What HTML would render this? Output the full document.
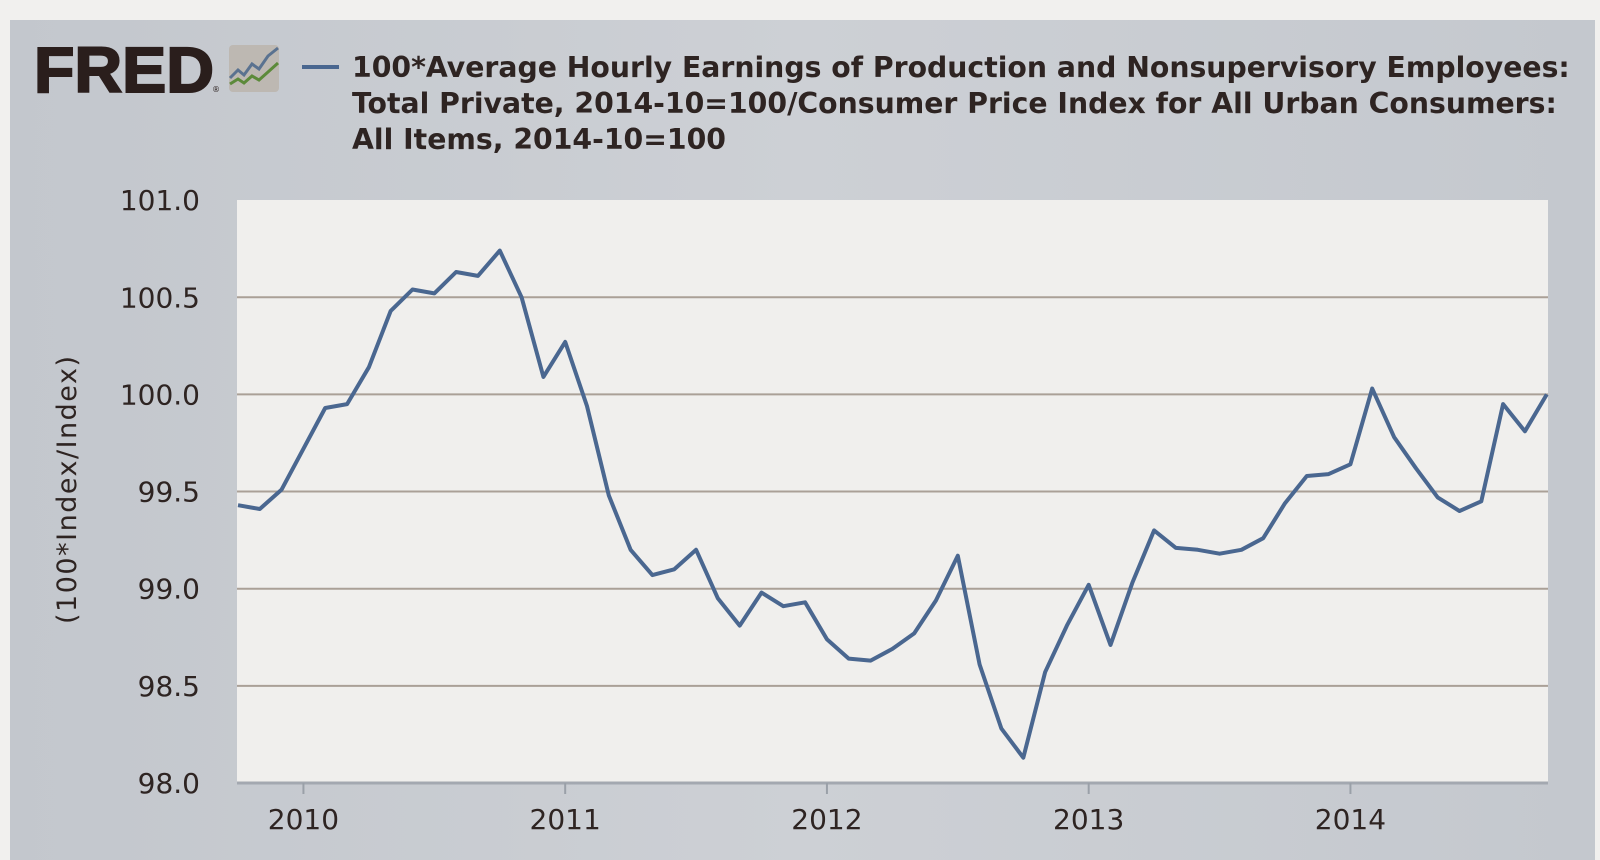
<!DOCTYPE html>
<html><head><meta charset="utf-8"><style>
html,body{margin:0;padding:0;background:#f1f0ee;}
body{width:1600px;height:855px;position:relative;overflow:hidden;font-family:"DejaVu Sans","Liberation Sans",sans-serif;}
#panel{position:absolute;left:10px;top:20px;width:1585px;height:840px;background:linear-gradient(90deg,#c3c7cd,#cdd0d5 50%,#c4c8ce);}
</style></head><body>
<div id="panel"></div>
<svg width="1600" height="855" style="position:absolute;left:0;top:0">
  <text x="34" y="92" font-family="Liberation Sans, sans-serif" font-weight="bold" font-size="64" fill="#2a1e1c" textLength="180" lengthAdjust="spacingAndGlyphs" stroke="#2a1e1c" stroke-width="2">FRED</text>
  <text x="212" y="92" font-size="8" fill="#2a1e1c">®</text>
  <g>
    <rect x="229" y="45" width="50" height="47" rx="4" fill="#bdb8b2"/>
    <polyline points="230,78 238,70 244,75 252,64 259,69 268,56 278,48" fill="none" stroke="#5a7290" stroke-width="3"/>
    <polyline points="230,84 238,79 244,83 252,76 259,80 268,72 278,63" fill="none" stroke="#5c8a3a" stroke-width="3"/>
  </g>
  <line x1="302" y1="67" x2="339" y2="67" stroke="#4a6790" stroke-width="4"/>
  <g font-family="DejaVu Sans, sans-serif" font-weight="bold" font-size="28.3" fill="#2e2422">
    <text x="352" y="77">100*Average Hourly Earnings of Production and Nonsupervisory Employees:</text>
    <text x="352" y="113">Total Private, 2014-10=100/Consumer Price Index for All Urban Consumers:</text>
    <text x="352" y="149">All Items, 2014-10=100</text>
  </g>
  <rect x="237" y="200" width="1311" height="582" fill="#f0efed"/>
  <g id="grid"></g>
  <line x1="237" y1="783" x2="1548" y2="783" stroke="#a3a8b0" stroke-width="3"/>
  <g id="ticks"></g>
  <path id="series" fill="none" stroke="#4a6790" stroke-width="4" stroke-linejoin="round"/>
  <text transform="translate(76,490) rotate(-90)" text-anchor="middle" font-size="27" fill="#2e2422" textLength="268">(100*Index/Index)</text>
</svg>
<script>
const values=[99.43,99.41,99.51,99.72,99.93,99.95,100.14,100.43,100.54,100.52,100.63,100.61,100.74,100.50,100.09,100.27,99.94,99.48,99.20,99.07,99.10,99.20,98.95,98.81,98.98,98.91,98.93,98.74,98.64,98.63,98.69,98.77,98.94,99.17,98.61,98.28,98.13,98.57,98.81,99.02,98.71,99.03,99.30,99.21,99.20,99.18,99.20,99.26,99.44,99.58,99.59,99.64,100.03,99.78,99.62,99.47,99.40,99.45,99.95,99.81,100.00];
const startYear=2009, startMonth=9; // Oct 2009 (0-based month)
const yTicks=[98.0,98.5,99.0,99.5,100.0,100.5,101.0];
const xTicks=[2010,2011,2012,2013,2014];
const X=t=>238+(t-2009.75)*261.75;
const Y=v=>783-(v-98)*194.3;
const NS='http://www.w3.org/2000/svg';
const grid=document.getElementById('grid'), ticks=document.getElementById('ticks');
yTicks.forEach(v=>{
  if(v>98&&v<101){const l=document.createElementNS(NS,'line');
  l.setAttribute('x1',237);l.setAttribute('x2',1548);l.setAttribute('y1',Y(v));l.setAttribute('y2',Y(v));
  l.setAttribute('stroke','#aaa097');l.setAttribute('stroke-width','2');
  
  
  grid.appendChild(l);}
  const t=document.createElementNS(NS,'text');
  t.setAttribute('x',200);t.setAttribute('y',Y(v)+10);t.setAttribute('text-anchor','end');
  t.setAttribute('font-size','28');t.setAttribute('fill','#2e2422');t.textContent=v.toFixed(1);
  
  
  ticks.appendChild(t);
});
xTicks.forEach(y=>{
  const l=document.createElementNS(NS,'line');
  l.setAttribute('x1',X(y));l.setAttribute('x2',X(y));l.setAttribute('y1',783);l.setAttribute('y2',794);
  l.setAttribute('stroke','#9aa0a8');l.setAttribute('stroke-width','2');
  
  
  ticks.appendChild(l);
  const t=document.createElementNS(NS,'text');
  t.setAttribute('x',X(y));t.setAttribute('y',829);t.setAttribute('text-anchor','middle');
  t.setAttribute('font-size','28');t.setAttribute('fill','#2e2422');t.textContent=y;
  
  
  ticks.appendChild(t);
});
let d='';
values.forEach((v,i)=>{const t=startYear+(startMonth+i)/12;d+=(i?'L':'M')+X(t).toFixed(1)+','+Y(v).toFixed(1);});
document.getElementById('series').setAttribute('d',d);
</script>
</body></html>
